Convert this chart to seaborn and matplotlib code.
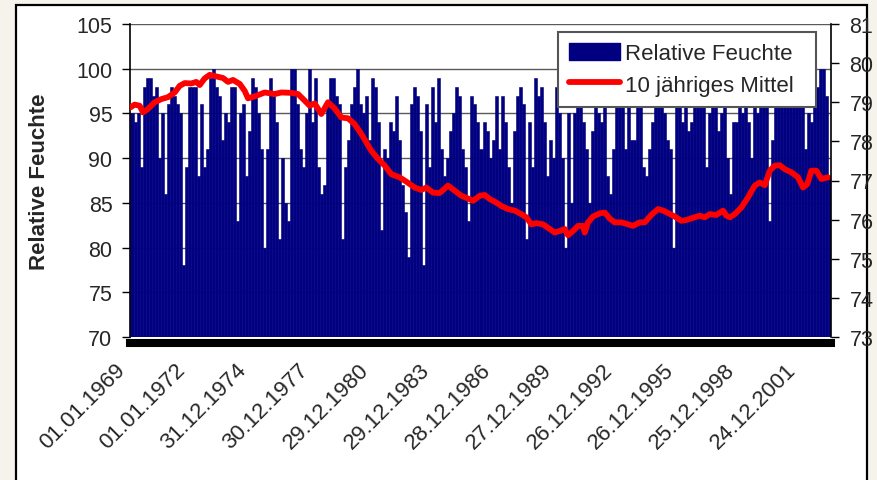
import numpy as np
import pandas as pd
import matplotlib
matplotlib.use("Agg")
import matplotlib.pyplot as plt
import matplotlib.transforms as mtransforms
from matplotlib.patches import Rectangle, Patch
from matplotlib.lines import Line2D
import seaborn as sns

# Relative humidity, one reading every 54 days starting 01.01.1969
step_days = 54
feuchte = [
    95, 94, 95, 89, 98, 99, 99, 97, 98, 90, 95, 86, 96, 98, 97, 96, 95, 78, 89, 98,
    98, 98, 88, 96, 89, 91, 99, 100, 98, 97, 92, 95, 94, 98, 98, 83, 95, 96, 88, 93,
    99, 98, 95, 91, 80, 91, 99, 97, 94, 81, 90, 85, 83, 100, 100, 96, 91, 89, 95, 100,
    94, 99, 89, 86, 87, 96, 99, 99, 97, 96, 81, 89, 92, 96, 98, 100, 96, 95, 97, 92,
    99, 98, 94, 82, 91, 90, 94, 93, 97, 92, 87, 84, 79, 96, 98, 97, 93, 78, 96, 89,
    98, 94, 99, 91, 88, 90, 93, 95, 98, 97, 91, 89, 83, 97, 96, 94, 91, 94, 93, 90,
    92, 97, 91, 97, 94, 89, 85, 93, 97, 98, 96, 81, 94, 89, 99, 97, 98, 94, 88, 92,
    90, 98, 95, 90, 80, 95, 85, 95, 97, 96, 94, 91, 85, 93, 96, 95, 94, 96, 88, 86,
    91, 97, 98, 96, 91, 97, 92, 92, 98, 96, 89, 88, 91, 94, 99, 97, 96, 95, 92, 91,
    80, 98, 97, 94, 96, 93, 94, 98, 97, 99, 96, 89, 95, 97, 96, 93, 95, 98, 90, 86,
    94, 94, 97, 95, 97, 94, 90, 97, 95, 98, 97, 98, 83, 92, 97, 98, 99, 97, 98, 96,
    98, 99, 97, 96, 91, 95, 94, 97, 98, 100, 100, 97, 88,
]

# 10-year running mean: day offset from 01.01.1969 and value
mittel_tag = [
    0, 75, 165, 224, 314, 434, 553, 673, 793, 883, 973, 1091, 1181, 1242, 1332, 1422,
    1540, 1660, 1750, 1840, 1960, 2050, 2109,
    2229, 2409, 2588, 2707, 2886, 3007, 3127, 3217, 3306, 3425, 3545, 3665, 3784, 3904,
    4024, 4143, 4263,
    4322, 4443, 4563, 4681, 4832, 4951, 5101, 5220, 5310, 5430, 5550, 5699, 5819, 5938,
    6058, 6148, 6268, 6358, 6453,
    6537, 6656, 6776, 6896, 7015, 7105, 7194, 7284, 7404, 7525, 7614, 7704, 7794, 7853,
    7943, 8033, 8122, 8153, 8212, 8302, 8422, 8512, 8607,
    8691, 8810, 8930, 9020, 9140, 9230, 9348, 9469, 9559, 9648, 9768, 9887, 9977, 10127,
    10217, 10307, 10397, 10515, 10635, 10695, 10761,
    10845, 10964, 11084, 11204, 11294, 11384, 11474, 11563, 11653, 11743, 11861, 11982,
    12071, 12148, 12220, 12310, 12400, 12520,
]
mittel_wert = [
    78.87, 78.94, 78.91, 78.74, 78.83, 79.00, 79.08, 79.13, 79.25, 79.42, 79.49, 79.48,
    79.52, 79.44, 79.61, 79.70, 79.66, 79.62, 79.52, 79.57, 79.47, 79.29, 79.10,
    79.15, 79.25, 79.21, 79.25, 79.24, 79.21, 79.04, 78.91, 78.97, 78.70, 79.00, 78.84,
    78.61, 78.59, 78.44, 78.19, 77.90,
    77.76, 77.55, 77.38, 77.16, 77.08, 76.97, 76.82, 76.76, 76.82, 76.69, 76.68, 76.87,
    76.74, 76.61, 76.54, 76.48, 76.61, 76.63, 76.52,
    76.46, 76.35, 76.27, 76.23, 76.14, 76.06, 75.88, 75.91, 75.88, 75.76, 75.67, 75.71,
    75.76, 75.60, 75.71, 75.84, 75.84, 75.67, 75.93, 76.08, 76.16, 76.18, 76.02,
    75.93, 75.93, 75.88, 75.84, 75.93, 75.93, 76.12, 76.27, 76.23, 76.17, 76.08, 75.97,
    75.99, 76.06, 76.10, 76.06, 76.14, 76.12, 76.23, 76.10, 76.06,
    76.14, 76.31, 76.57, 76.87, 76.95, 76.88, 77.25, 77.38, 77.39, 77.29, 77.21, 77.08,
    76.82, 76.91, 77.25, 77.25, 77.04, 77.08,
]

# date labels every 1095 days
tick_labels = ["01.01.1969", "01.01.1972", "31.12.1974", "30.12.1977", "29.12.1980",
               "29.12.1983", "28.12.1986", "27.12.1989", "26.12.1992", "26.12.1995",
               "25.12.1998", "24.12.2001"]
tick_step_days = 1095

left_ticks = [70, 75, 80, 85, 90, 95, 100, 105]
right_ticks = [73, 74, 75, 76, 77, 78, 79, 80, 81]

NAVY = "#000080"
RED = "#FF0000"
BG = "#F6F3EC"

sns.set_style("white")
plt.rcParams["font.family"] = ["Liberation Sans", "DejaVu Sans"]

W, H = 878, 481
fig = plt.figure(figsize=(W / 100, H / 100), dpi=100)
fig.patch.set_facecolor(BG)

# white chart area with black frame
fig.add_artist(Rectangle((16 / W, -0.05), (867 - 16) / W, 1.05 - 6 / H,
                         transform=fig.transFigure, facecolor="white",
                         edgecolor="black", linewidth=1.6, zorder=-5))

px0, px1, py0, py1 = 130.5, 831.5, 25, 338
ax = fig.add_axes([px0 / W, 1 - py1 / H, (px1 - px0) / W, (py1 - py0) / H])
ax.set_facecolor("white")

df = pd.DataFrame({"pos": np.arange(len(feuchte)), "feuchte": feuchte})
sns.barplot(data=df, x="pos", y="feuchte", color=NAVY, saturation=1, width=1.0,
            errorbar=None, linewidth=0.4, edgecolor=NAVY, ax=ax)

# running mean on the secondary axis
ax2 = ax.twinx()
line_x = np.array(mittel_tag) / step_days - 0.5
sns.lineplot(x=line_x, y=mittel_wert, color=RED, linewidth=4.2, ax=ax2,
             solid_capstyle="round", solid_joinstyle="round")

n = len(feuchte)
ax.set_xlim(-0.5, n - 0.5)
ax.set_ylim(70, 105)
ax.set_yticks(left_ticks)
ax.set_axisbelow(True)
ax.yaxis.grid(True, color="#5a5a5a", linewidth=1.0)
ax.xaxis.grid(False)

ax.set_xlabel("")
ax.set_ylabel("Relative Feuchte", fontsize=16, fontweight="bold")
ax.yaxis.set_label_coords(-0.115, 0.5)
ax.tick_params(axis="y", direction="out", length=6, width=1, color="black",
               labelsize=15.5, pad=7, left=True)

for side in ["top", "right"]:
    ax.spines[side].set_visible(False)
ax.spines["left"].set_color("black")
ax.spines["left"].set_linewidth(1.2)
ax.spines["bottom"].set_color("black")
ax.spines["bottom"].set_linewidth(5.8)
ax.spines["bottom"].set_position(("outward", 4))

ax2.set_ylim(73, 81)
ax2.set_yticks(right_ticks)
ax2.tick_params(axis="y", direction="out", length=6, width=1, color="black",
                labelsize=15.5, pad=7, right=True)
ax2.set_ylabel("")
ax2.set_xlabel("")
for side in ["top", "left", "bottom"]:
    ax2.spines[side].set_visible(False)
ax2.spines["right"].set_color("black")
ax2.spines["right"].set_linewidth(1.2)
ax2.grid(False)

handles = [Patch(facecolor=NAVY, edgecolor=NAVY),
           Line2D([0], [0], color=RED, linewidth=4.2)]
lx0 = (558 - px0) / (px1 - px0)
lx1 = (816 - px0) / (px1 - px0)
ly1 = 1 - (33 - py0) / (py1 - py0)
ly0 = 1 - (109 - py0) / (py1 - py0)
leg = ax2.legend(handles, ["Relative Feuchte", "10 jähriges Mittel"],
                 loc="upper left", bbox_to_anchor=(lx0, ly0, lx1 - lx0, ly1 - ly0),
                 mode="expand", borderaxespad=0, fontsize=16, frameon=True,
                 fancybox=False, framealpha=1, edgecolor="#555555",
                 handlelength=2.3, handleheight=0.8, handletextpad=0.2,
                 labelspacing=0.45, borderpad=0.5)
leg.get_frame().set_linewidth(1.5)

# date ticks, set last so nothing resets them
tick_pos = np.arange(len(tick_labels)) * tick_step_days / step_days - 0.5
ax.set_xticks(tick_pos, tick_labels)
ax.tick_params(axis="x", length=0, pad=17, labelsize=16, labelrotation=45)
shift_left = mtransforms.ScaledTranslation(-9 / 100, 0, fig.dpi_scale_trans)
for lbl in ax.get_xticklabels():
    lbl.set_horizontalalignment("right")
    lbl.set_verticalalignment("center")
    lbl.set_rotation_mode("anchor")
    lbl.set_transform(lbl.get_transform() + shift_left)

fig.savefig("out.png", dpi=100, facecolor=fig.get_facecolor())
